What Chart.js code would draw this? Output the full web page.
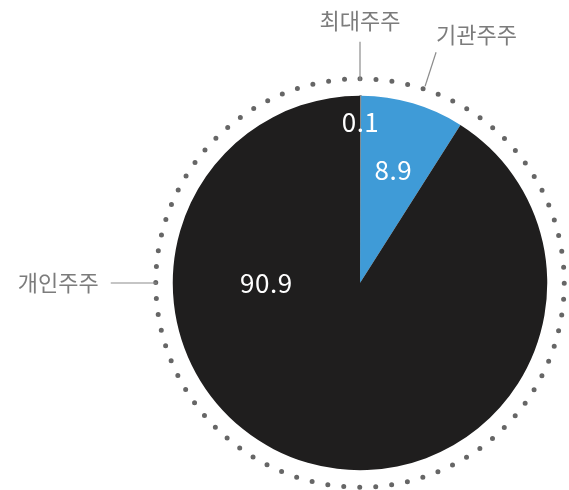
<!DOCTYPE html>
<html>
<head>
<meta charset="utf-8">
<script src="https://cdn.jsdelivr.net/npm/chart.js@4"></script>
<style>
  html, body { margin: 0; padding: 0; background: #fff; }
  #wrap { width: 569px; height: 490px; }
</style>
</head>
<body>
<div id="wrap"><canvas id="chart" width="569" height="490"></canvas></div>
<script>
const categories = ["최대주주", "기관주주", "개인주주"];
const shares = [0.1, 8.9, 90.9];
const valueLabels = ["0.1", "8.9", "90.9"];

const sliceColors = ["#8a8a8a", "#3f9bd7", "#1f1e1e"];

// where the numbers sit inside the pie (fraction of radius, optional angle in deg from top)
const valuePlacement = [
  { r: 0.86 },
  { r: 0.63 },
  { r: 0.5, angle: -90 }
];

const FONT = "'Noto Sans CJK KR', 'Noto Sans', sans-serif";

// dotted ring + callout labels
const decorations = {
  id: "decorations",
  beforeDatasetsDraw(chart) {
    const arc = chart.getDatasetMeta(0).data[0];
    const { x, y, outerRadius } = arc.getProps(["x", "y", "outerRadius"], true);
    const ctx = chart.ctx;
    const ringR = outerRadius + 17;
    const dots = 80;
    const gap = (2 * Math.PI * ringR) / dots;

    ctx.save();
    ctx.strokeStyle = "#666666";
    ctx.lineWidth = 5;
    ctx.lineCap = "round";
    ctx.setLineDash([0, gap]);
    ctx.beginPath();
    ctx.arc(x, y, ringR, -Math.PI / 2, 1.5 * Math.PI);
    ctx.stroke();
    ctx.restore();
  },
  afterDatasetsDraw(chart) {
    const meta = chart.getDatasetMeta(0);
    const ctx = chart.ctx;
    const first = meta.data[0];
    const { x, y, outerRadius } = first.getProps(["x", "y", "outerRadius"], true);
    const ringR = outerRadius + 17;

    // numbers inside slices
    ctx.save();
    ctx.fillStyle = "#ffffff";
    ctx.font = "400 26px " + FONT;
    ctx.letterSpacing = "0.5px";
    ctx.textAlign = "center";
    ctx.textBaseline = "middle";
    meta.data.forEach((el, i) => {
      const p = el.getProps(["startAngle", "endAngle"], true);
      const pl = valuePlacement[i];
      const a = pl.angle !== undefined ? (pl.angle - 90) * Math.PI / 180 : (p.startAngle + p.endAngle) / 2;
      const rr = outerRadius * pl.r;
      ctx.fillText(valueLabels[i], x + Math.cos(a) * rr, y + Math.sin(a) * rr);
    });
    ctx.restore();

    // callouts
    ctx.save();
    ctx.strokeStyle = "#8c8c8c";
    ctx.lineWidth = 1.2;
    ctx.fillStyle = "#7c7c7c";
    ctx.font = "400 22px " + FONT;
    ctx.textBaseline = "middle";

    // 최대주주 : straight up
    ctx.beginPath();
    ctx.moveTo(x, y - ringR + 2);
    ctx.lineTo(x, y - ringR - 37);
    ctx.stroke();
    ctx.textAlign = "center";
    ctx.fillText(categories[0], x, y - ringR - 58);

    // 기관주주 : slanted
    const a1 = (18.3 - 90) * Math.PI / 180;
    const sx = x + Math.cos(a1) * (ringR + 3);
    const sy = y + Math.sin(a1) * (ringR + 3);
    ctx.beginPath();
    ctx.moveTo(sx, sy);
    ctx.lineTo(sx + 11, sy - 34);
    ctx.stroke();
    ctx.textAlign = "left";
    ctx.fillText(categories[1], sx + 11, sy - 52);

    // 개인주주 : left
    ctx.beginPath();
    ctx.moveTo(x - ringR + 1, y);
    ctx.lineTo(x - ringR - 45, y);
    ctx.stroke();
    ctx.textAlign = "right";
    ctx.fillText(categories[2], x - ringR - 57, y);
    ctx.restore();
  }
};

new Chart(document.getElementById("chart"), {
  type: "pie",
  data: {
    labels: categories,
    datasets: [{
      data: shares,
      backgroundColor: sliceColors,
      borderColor: sliceColors,
      borderWidth: [1.5, 0, 0]
    }]
  },
  options: {
    responsive: false,
    animation: false,
    layout: { padding: { left: 172, right: 21, top: 95, bottom: 19 } },
    plugins: {
      legend: { display: false },
      tooltip: { enabled: false }
    }
  },
  plugins: [decorations]
});
</script>
</body>
</html>
